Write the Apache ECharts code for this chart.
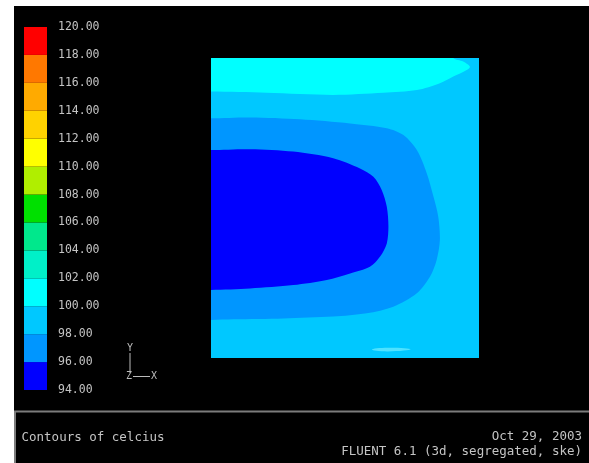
<!DOCTYPE html>
<html>
<head>
<meta charset="utf-8">
<script src="https://cdn.jsdelivr.net/npm/echarts@6/dist/echarts.min.js"></script>
<style>
html, body { margin: 0; padding: 0; background: #fff; }
#main { position: absolute; left: 14px; top: 6px; width: 575px; height: 457px; }
</style>
</head>
<body>
<div id="main"></div>
<script>
// colour bands of the legend, celcius
var levels = [94, 96, 98, 100, 102, 104, 106, 108, 110, 112, 114, 116, 118, 120];
var bandColors = ['#0000ff', '#0096ff', '#00c8ff', '#00ffff', '#00f0c8', '#00e88c',
    '#00e000', '#b0ee00', '#ffff00', '#ffd200', '#ffaa00', '#ff7800', '#ff0000'];

// contour regions in domain units (x 0..1, y 0..1); points just outside the box are clipped
var domainBox = [[0, 0], [1, 0], [1, 1], [0, 1]];                 // 98-100
var band100 = [[-0.05, 1.05], [-0.05, 0.888], [0, 0.888], [0.208, 0.884], [0.456, 0.877],
    [0.643, 0.884], [0.768, 0.893], [0.854, 0.916], [0.904, 0.938], [0.954, 0.96],
    [0.966, 0.971], [0.941, 0.988], [0.904, 1], [0.87, 1.05]];      // 100-102
var band96 = [[-0.05, 0.799], [0, 0.799], [0.146, 0.802], [0.332, 0.796], [0.519, 0.782],
    [0.656, 0.766], [0.718, 0.743], [0.768, 0.693], [0.805, 0.616], [0.83, 0.538],
    [0.848, 0.471], [0.854, 0.393], [0.842, 0.327], [0.817, 0.271], [0.768, 0.216],
    [0.68, 0.171], [0.581, 0.149], [0.456, 0.138], [0.27, 0.132], [0.083, 0.129],
    [0, 0.127], [-0.05, 0.127]];                                    // 96-98
var band94 = [[-0.05, 0.693], [0, 0.693], [0.146, 0.696], [0.307, 0.688], [0.456, 0.666],
    [0.556, 0.632], [0.606, 0.604], [0.637, 0.56], [0.656, 0.504], [0.662, 0.438],
    [0.656, 0.382], [0.631, 0.338], [0.593, 0.304], [0.519, 0.282], [0.432, 0.26],
    [0.307, 0.243], [0.146, 0.232], [0, 0.227], [-0.05, 0.227]];    // 94-96
var streak = [[0.6, 0.028], [0.66, 0.034], [0.745, 0.029], [0.66, 0.022]];

var regions = [domainBox, band100, band96, band94, streak];
var regionColors = ['#00c8ff', '#00ffff', '#0096ff', '#0000ff', '#4ee2ff'];
var regionSmooth = [0, 0.3, 0.3, 0.3, 0.5];

var bands = [];
for (var i = 0; i < levels.length - 1; i++) {
    bands.push([levels[i], levels[i + 1], i]);
}

var mono = '"DejaVu Sans Mono", "Liberation Mono", monospace';
var textGray = '#c4c4c4';

var myChart = echarts.init(document.getElementById('main'));
var option = {
    backgroundColor: '#000',
    animation: false,
    grid: [
        { left: 10, top: 21, width: 23, height: 363 },
        { left: 197, top: 52, width: 268, height: 300 }
    ],
    xAxis: [
        { gridIndex: 0, type: 'value', min: 0, max: 1, show: false },
        { gridIndex: 1, type: 'value', min: 0, max: 1, show: false }
    ],
    yAxis: [{
        gridIndex: 0,
        type: 'value',
        position: 'right',
        min: 94,
        max: 120,
        interval: 2,
        axisLine: { show: false },
        axisTick: { show: false },
        splitLine: { show: false },
        axisLabel: {
            margin: 11,
            color: textGray,
            fontFamily: mono,
            fontSize: 11.5,
            padding: [0, 0, 7, 0],
            formatter: function (v) { return v.toFixed(2); }
        }
    }, {
        gridIndex: 1, type: 'value', min: 0, max: 1, show: false
    }],
    series: [{
        // colour bar
        type: 'custom',
        xAxisIndex: 0,
        yAxisIndex: 0,
        data: bands,
        encode: { y: [0, 1] },
        renderItem: function (params, api) {
            var p1 = api.coord([0, api.value(1)]);
            var p2 = api.coord([1, api.value(0)]);
            return {
                type: 'rect',
                shape: { x: p1[0], y: p1[1], width: p2[0] - p1[0], height: p2[1] - p1[1] },
                style: { fill: bandColors[api.value(2)] }
            };
        }
    }, {
        // contour regions
        type: 'custom',
        xAxisIndex: 1,
        yAxisIndex: 1,
        clip: true,
        data: regions.map(function (r, i) { return [0, 0, i]; }),
        renderItem: function (params, api) {
            var idx = api.value(2);
            var pts = regions[idx].map(function (p) { return api.coord(p); });
            return {
                type: 'polygon',
                shape: { points: pts, smooth: regionSmooth[idx] },
                style: { fill: regionColors[idx] }
            };
        }
    }],
    graphic: [
        // bottom info panel
        { type: 'rect', shape: { x: 1, y: 405.5, width: 600, height: 100 },
          style: { fill: 'none', stroke: '#7c7c7c', lineWidth: 2 } },
        { type: 'text', x: 7.5, y: 432,
          style: { text: 'Contours of celcius', fill: textGray, font: '12.5px ' + mono, textVerticalAlign: 'middle' } },
        { type: 'text', x: 568, y: 431,
          style: { text: 'Oct 29, 2003', fill: textGray, font: '12.5px ' + mono, textAlign: 'right', textVerticalAlign: 'middle' } },
        { type: 'text', x: 568, y: 445.5,
          style: { text: 'FLUENT 6.1 (3d, segregated, ske)', fill: textGray, font: '12.5px ' + mono, textAlign: 'right', textVerticalAlign: 'middle' } },
        // axis triad
        { type: 'line', shape: { x1: 116, y1: 347, x2: 116, y2: 367 }, style: { stroke: '#bbb', lineWidth: 1 } },
        { type: 'line', shape: { x1: 119, y1: 370.5, x2: 136, y2: 370.5 }, style: { stroke: '#bbb', lineWidth: 1 } },
        { type: 'text', x: 116, y: 342, style: { text: 'Y', fill: '#bbb', font: '10px ' + mono, textAlign: 'center', textVerticalAlign: 'middle' } },
        { type: 'text', x: 115, y: 370.5, style: { text: 'Z', fill: '#bbb', font: '10px ' + mono, textAlign: 'center', textVerticalAlign: 'middle' } },
        { type: 'text', x: 140, y: 370.5, style: { text: 'X', fill: '#bbb', font: '10px ' + mono, textAlign: 'center', textVerticalAlign: 'middle' } }
    ]
};
myChart.setOption(option);
window.addEventListener('resize', function () {
    myChart.resize();
});
</script>
</body>
</html>
